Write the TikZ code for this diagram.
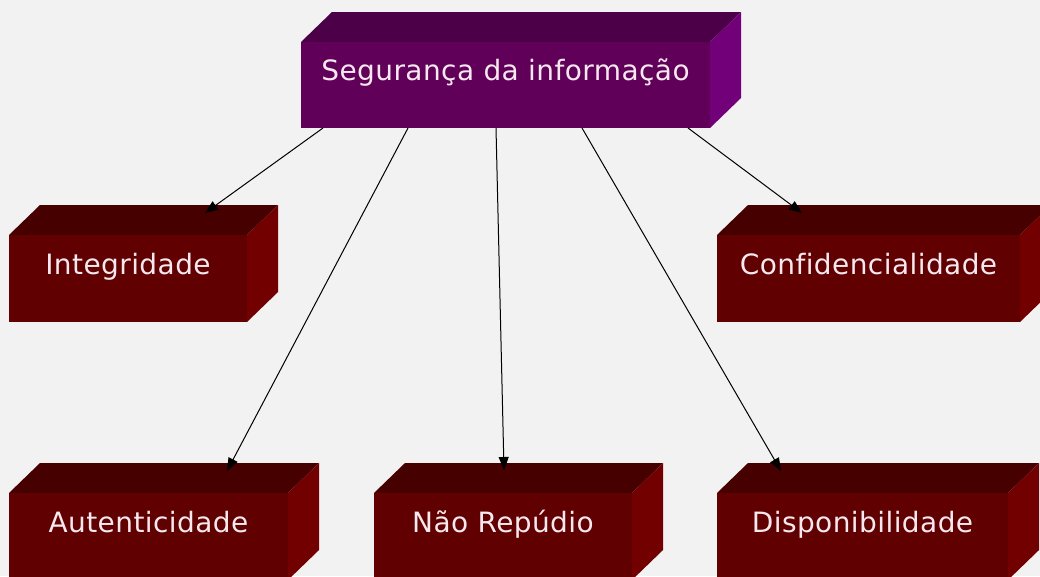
\documentclass[tikz,border=0pt]{standalone}
\usepackage{fontspec}
\setmainfont{DejaVu Sans}[LetterSpace=1.5,Ligatures=NoCommon]
\usetikzlibrary{arrows.meta,calc,fit}
\definecolor{bg}{HTML}{F2F2F2}
\definecolor{ptop}{RGB}{75,0,71}
\definecolor{pfront}{RGB}{97,0,89}
\definecolor{pside}{RGB}{114,0,120}
\definecolor{rtop}{RGB}{71,0,0}
\definecolor{rfront}{RGB}{96,0,0}
\definecolor{rside}{RGB}{114,0,0}
\definecolor{txt}{RGB}{246,232,238}
\newcommand\cubebox[7]{%
  \fill[#6top] (#2,#3) -- ++(31,-30) -- (#4+31,#3-30) -- (#4,#3) -- cycle;
  \fill[#6side] (#4,#3) -- (#4+31,#3-30) -- (#4+31,#5-30) -- (#4,#5) -- cycle;
  \node[frontface, fill=#6front, fit={(#2,#3) (#4,#5)}] (#1) {};
  \node[lbl] (#1t) at ({(#2+#4)/2},{(#3-30+#5)/2+10.5}) {#7};
}
\begin{document}
\begin{tikzpicture}[x=1pt,y=-1pt,
  frontface/.style={inner sep=0pt, outer sep=0pt, draw=none},
  lbl/.style={anchor=base, text=txt, font=\fontsize{28}{32}\selectfont, inner sep=0pt},
  arr/.style={draw=black, line width=1pt, -{Triangle[length=13pt,width=10pt]}}]
\useasboundingbox (0,0) rectangle (1040,576);
\fill[bg] (0,0) rectangle (1040,576);
\begin{scope}
\clip (0,0) rectangle (1040,576);
\cubebox{seg}{301}{42}{710}{128}{p}{Segurança da informação}
\cubebox{integ}{9}{235}{247}{322}{r}{Integridade}
\cubebox{conf}{717}{235}{1020}{322}{r}{Confidencialidade}
\cubebox{aut}{9}{493}{288}{580}{r}{Autenticidade}
\cubebox{nao}{374}{493}{632}{580}{r}{Não Repúdio}
\cubebox{disp}{717}{493}{1008}{580}{r}{Disponibilidade}

\coordinate (integ-in) at ($(integ.north west)+(196,-22)$);
\coordinate (aut-in) at ($(aut.north west)+(218,-22)$);
\coordinate (nao-in) at ($(nao.north west)+(130,-23)$);
\coordinate (disp-in) at ($(disp.north west)+(64,-22)$);
\coordinate (conf-in) at ($(conf.north west)+(85,-22)$);

\draw[arr] ($(seg.south west)+(22,0)$) -- (integ-in);
\draw[arr] ($(seg.south west)+(107,0)$) -- (aut-in);
\draw[arr] ($(seg.south west)+(195,0)$) -- (nao-in);
\draw[arr] ($(seg.south west)+(281,0)$) -- (disp-in);
\draw[arr] ($(seg.south west)+(387,0)$) -- (conf-in);
\end{scope}
\end{tikzpicture}
\end{document}
